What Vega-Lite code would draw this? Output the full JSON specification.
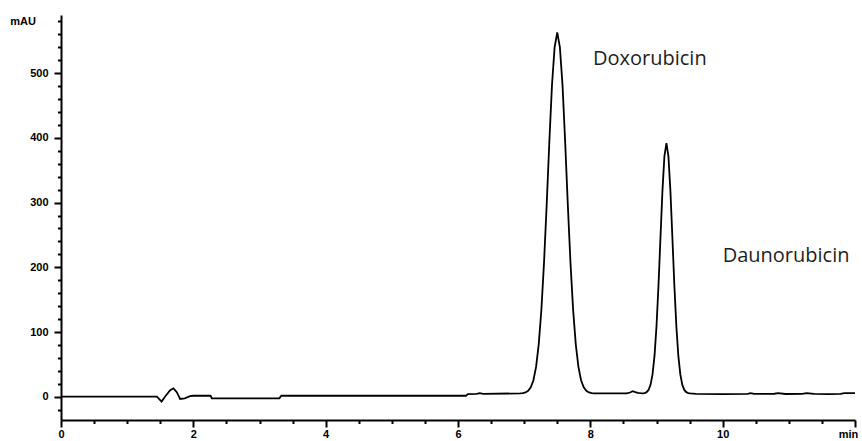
{
  "$schema": "https://vega.github.io/schema/vega-lite/v6.json",
  "width": 794,
  "height": 405,
  "autosize": {"type": "none"},
  "padding": {"left": 61, "top": 15, "right": 7, "bottom": 21},
  "background": "white",
  "config": {"view": {"stroke": null}},
  "datasets": {
    "trace": [
      {"t": 0, "a": 0}, {"t": 0.5, "a": 0}, {"t": 1.0, "a": 0}, {"t": 1.45, "a": 0},
      {"t": 1.52, "a": -7.5}, {"t": 1.58, "a": 1}, {"t": 1.65, "a": 10}, {"t": 1.7, "a": 13},
      {"t": 1.75, "a": 7}, {"t": 1.8, "a": -3.5}, {"t": 1.87, "a": -2.5}, {"t": 1.95, "a": 1},
      {"t": 2.0, "a": 1.5}, {"t": 2.26, "a": 1.5}, {"t": 2.28, "a": -2.5}, {"t": 3.3, "a": -2.5},
      {"t": 3.33, "a": 1.5}, {"t": 4.5, "a": 1.5}, {"t": 6.12, "a": 1.5}, {"t": 6.15, "a": 4},
      {"t": 6.28, "a": 4.5}, {"t": 6.33, "a": 5.5}, {"t": 6.38, "a": 4.5}, {"t": 6.94, "a": 5.1},
      {"t": 6.98, "a": 5.6}, {"t": 7.02, "a": 6.6}, {"t": 7.06, "a": 9}, {"t": 7.1, "a": 14.5},
      {"t": 7.14, "a": 25.5}, {"t": 7.18, "a": 46}, {"t": 7.22, "a": 81}, {"t": 7.26, "a": 134},
      {"t": 7.3, "a": 207}, {"t": 7.34, "a": 296}, {"t": 7.38, "a": 393}, {"t": 7.42, "a": 481},
      {"t": 7.46, "a": 540}, {"t": 7.5, "a": 563}, {"t": 7.54, "a": 540}, {"t": 7.58, "a": 481},
      {"t": 7.62, "a": 393}, {"t": 7.66, "a": 296}, {"t": 7.7, "a": 207}, {"t": 7.74, "a": 134},
      {"t": 7.78, "a": 81}, {"t": 7.82, "a": 46}, {"t": 7.86, "a": 25.5}, {"t": 7.9, "a": 14.5},
      {"t": 7.94, "a": 9}, {"t": 7.98, "a": 6.6}, {"t": 8.02, "a": 5.6}, {"t": 8.06, "a": 5.2},
      {"t": 8.3, "a": 5.0}, {"t": 8.55, "a": 5.2}, {"t": 8.6, "a": 6.5}, {"t": 8.64, "a": 8.5},
      {"t": 8.68, "a": 7}, {"t": 8.72, "a": 6}, {"t": 8.76, "a": 5.5}, {"t": 8.79, "a": 5.3},
      {"t": 8.82, "a": 5.7}, {"t": 8.85, "a": 7}, {"t": 8.88, "a": 10.5}, {"t": 8.91, "a": 18.4},
      {"t": 8.94, "a": 34.4}, {"t": 8.97, "a": 63}, {"t": 9.0, "a": 109}, {"t": 9.03, "a": 172},
      {"t": 9.06, "a": 246}, {"t": 9.09, "a": 318.5}, {"t": 9.12, "a": 372}, {"t": 9.15, "a": 392},
      {"t": 9.18, "a": 372}, {"t": 9.21, "a": 318.5}, {"t": 9.24, "a": 246}, {"t": 9.27, "a": 172},
      {"t": 9.3, "a": 109}, {"t": 9.33, "a": 63}, {"t": 9.36, "a": 34.4}, {"t": 9.39, "a": 18.4},
      {"t": 9.42, "a": 10.5}, {"t": 9.45, "a": 7}, {"t": 9.48, "a": 5.7}, {"t": 9.51, "a": 5.2},
      {"t": 9.6, "a": 4.5}, {"t": 10.0, "a": 4.0}, {"t": 10.38, "a": 4.3}, {"t": 10.42, "a": 5.5},
      {"t": 10.48, "a": 4.3}, {"t": 10.78, "a": 4.6}, {"t": 10.84, "a": 5.4}, {"t": 10.95, "a": 4.2},
      {"t": 11.2, "a": 4.5}, {"t": 11.27, "a": 5.4}, {"t": 11.38, "a": 4.5}, {"t": 11.6, "a": 4.0},
      {"t": 11.78, "a": 4.5}, {"t": 11.84, "a": 5.4}, {"t": 12.0, "a": 5.4}
    ],
    "labels": [
      {"t": 8.04, "a": 512, "label": "Doxorubicin"},
      {"t": 10.0, "a": 208, "label": "Daunorubicin"}
    ]
  },
  "resolve": {"axis": {"x": "independent", "y": "independent"}},
  "layer": [
    {
      "data": {"name": "trace"},
      "mark": {"type": "line", "color": "#000000", "strokeWidth": 1.8, "interpolate": "linear"},
      "encoding": {
        "x": {
          "field": "t", "type": "quantitative",
          "scale": {"domain": [0, 12], "nice": false, "zero": false},
          "axis": {
            "orient": "bottom",
            "values": [0, 2, 4, 6, 8, 10, 12],
            "labelExpr": "datum.value == 12 ? 'min' : datum.label",
            "labelOffset": {"condition": {"test": "datum.value == 12", "value": -7}, "value": 0},
            "title": null, "grid": false,
            "domainColor": "#000000", "domainWidth": 2,
            "tickColor": "#000000", "tickWidth": 2, "tickSize": 7,
            "labelFont": "Liberation Sans", "labelFontWeight": "bold", "labelFontSize": 11,
            "labelColor": "#000000", "labelPadding": 1, "labelFlush": false, "labelOverlap": false
          }
        },
        "y": {
          "field": "a", "type": "quantitative",
          "scale": {"domain": [-36, 590], "nice": false, "zero": false},
          "axis": {
            "orient": "left",
            "values": [0, 100, 200, 300, 400, 500, 580],
            "labelExpr": "datum.value == 580 ? 'mAU' : datum.label",
            "title": null, "grid": false,
            "domainColor": "#000000", "domainWidth": 2,
            "tickColor": "#000000", "tickWidth": 2,
            "tickSize": {"condition": {"test": "datum.value == 580", "value": 3.5}, "value": 7},
            "labelFont": "Liberation Sans", "labelFontWeight": "bold", "labelFontSize": 11,
            "labelColor": "#000000",
            "labelPadding": {"condition": {"test": "datum.value == 580", "value": 22}, "value": 6},
            "labelFlush": false, "labelOverlap": false
          }
        }
      }
    },
    {
      "data": {"name": "labels"},
      "mark": {"type": "text", "align": "left", "baseline": "alphabetic", "font": "Open Sans", "fontSize": 20, "color": "#1e1e1e"},
      "encoding": {
        "text": {"field": "label"},
        "x": {
          "field": "t", "type": "quantitative",
          "scale": {"domain": [0, 12], "nice": false, "zero": false},
          "axis": {
            "orient": "bottom",
            "values": [0.5, 1, 1.5, 2.5, 3, 3.5, 4.5, 5, 5.5, 6.5, 7, 7.5, 8.5, 9, 9.5, 10.5, 11, 11.5],
            "labels": false, "domain": false, "grid": false, "title": null,
            "tickColor": "#000000", "tickWidth": 2, "tickSize": 3.5
          }
        },
        "y": {
          "field": "a", "type": "quantitative",
          "scale": {"domain": [-36, 590], "nice": false, "zero": false},
          "axis": {
            "orient": "left",
            "values": [-20, 20, 40, 60, 80, 120, 140, 160, 180, 220, 240, 260, 280, 320, 340, 360, 380, 420, 440, 460, 480, 520, 540, 560],
            "labels": false, "domain": false, "grid": false, "title": null,
            "tickColor": "#000000", "tickWidth": 2, "tickSize": 3.5
          }
        }
      }
    }
  ]
}
